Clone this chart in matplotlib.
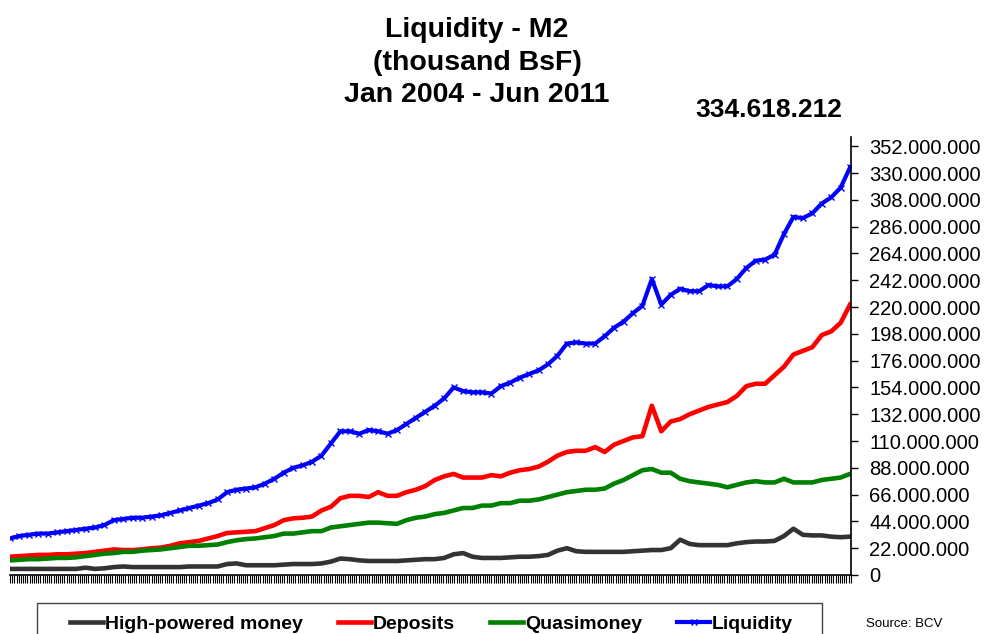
#!/usr/bin/env python3
"""Liquidity - M2 (thousand BsF), Jan 2004 - Jun 2011."""
import matplotlib
matplotlib.use('Agg')
import matplotlib.pyplot as plt
import matplotlib.patches as mpatches
from matplotlib.ticker import FuncFormatter
import numpy as np

plt.rcParams['font.family'] = ['Liberation Sans', 'DejaVu Sans']

# monthly readings, Jan 2004 .. Jun 2011, in millions of thousand BsF
months = np.arange(90)
high_powered = [5, 5, 5, 5, 5, 5, 5, 5, 6, 5, 5.5, 6.5, 7, 6.5, 6.5, 6.5, 6.5, 6.5,
                6.5, 7, 7, 7, 7, 9, 9.5, 8, 8, 8, 8, 8.5, 9, 9, 9, 9.5, 11, 13.5,
                13, 12, 11.5, 11.5, 11.5, 11.5, 12, 12.5, 13, 13, 14, 17, 18, 15, 14, 14,
                14, 14.5, 15, 15, 15.5, 16.5, 20, 22, 19.5, 19, 19, 19, 19, 19, 19.5, 20,
                20.5, 20.5, 22, 29, 25.5, 24.5, 24.5, 24.5, 24.5, 26, 27, 27.5, 27.5, 28,
                32, 38, 33, 32.5, 32.5, 31.5, 31, 31.5]
deposits = [15, 15.5, 16, 16.5, 16.5, 17, 17, 17.5, 18, 19, 20, 21, 20.5, 20.5, 21, 22,
            22.5, 24, 26, 27, 28, 30, 32, 34.5, 35, 35.5, 36, 38.5, 41, 45, 46.5, 47, 48,
            53, 56, 63, 65, 65, 64, 68, 65, 65, 68, 70, 73, 78, 81, 83, 80, 80, 80, 82,
            81, 84, 86, 87, 89, 93, 98, 101, 102, 102, 105, 101, 107, 110, 113, 114, 139,
            118, 126, 128, 132, 135, 138, 140, 142, 147, 155, 157, 157, 164, 171, 181, 184,
            187, 197, 200, 207, 222]
quasimoney = [12, 12.5, 13, 13, 13.5, 14, 14, 14.5, 15.5, 16.5, 17.5, 18, 19, 19, 20,
              20.5, 21, 22, 23, 24, 24, 24.5, 25, 27, 28.5, 29.5, 30, 31, 32, 34, 34, 35,
              36, 36, 39, 40, 41, 42, 43, 43, 42.5, 42, 45, 47, 48, 50, 51, 53, 55, 55, 57,
              57, 59, 59, 61, 61, 62, 64, 66, 68, 69, 70, 70, 71, 75, 78, 82, 86, 87, 84,
              84, 79, 77, 76, 75, 74, 72, 74, 76, 77, 76, 76, 79, 76, 76, 76, 78, 79, 80, 83]
liquidity = [30, 32, 33, 34, 34, 35, 36, 37, 38, 39, 41, 45, 46, 47, 47, 48, 49, 51, 53,
             55, 57, 59, 62, 68, 70, 71, 72, 75, 79, 84, 88, 90, 93, 98, 108, 118, 118,
             116, 119, 118, 116, 119, 124, 129, 134, 139, 145, 154, 151, 150, 150, 149,
             155, 158, 162, 165, 168, 173, 180, 190, 191, 190, 190, 196, 203, 208, 215,
             221, 243, 222, 230, 235, 233, 233, 238, 237, 237, 243, 252, 258, 259, 263,
             280, 294, 293, 297, 305, 310, 318, 334.618212]
labels = ['High-powered money', 'Deposits', 'Quasimoney', 'Liquidity']

SCALE = 1e6
GRAY = '#333333'
RED = '#FF0000'
GREEN = '#008000'
BLUE = '#0000FF'

def dotted(v, pos=None):
    return '{:,.0f}'.format(v).replace(',', '.')

fig = plt.figure(figsize=(9.93, 6.34), dpi=100, facecolor='white')
ax = fig.add_axes([10 / 993, 59 / 634, 841 / 993, 438 / 634])

ax.plot(months, np.array(high_powered) * SCALE, color=GRAY, lw=3.3, label=labels[0])
ax.plot(months, np.array(deposits) * SCALE, color=RED, lw=3.3, label=labels[1])
ax.plot(months, np.array(quasimoney) * SCALE, color=GREEN, lw=3.3, label=labels[2])
ax.plot(months, np.array(liquidity) * SCALE, color=BLUE, lw=3.0, marker='x',
        markersize=5, markeredgewidth=1, label=labels[3])

ax.set_xlim(0, 89.1)
ax.set_ylim(0, 359.6e6)

# right-hand value axis
ax.yaxis.tick_right()
ax.set_yticks(np.arange(0, 352e6 + 1, 22e6))
ax.yaxis.set_major_formatter(FuncFormatter(dotted))
ax.tick_params(axis='y', direction='out', length=5, width=1, pad=8, labelsize=14.5)

# weekly tick marks along the bottom, no labels
ax.set_xticks([])
ax.set_xticks(np.arange(0, 89.1, 12 / 52), minor=True)
ax.tick_params(axis='x', which='minor', direction='out', length=6, width=0.8)

for side in ('left', 'top'):
    ax.spines[side].set_visible(False)
for side in ('right', 'bottom'):
    ax.spines[side].set_linewidth(1.2)

title_lines = ['Liquidity - M2', '(thousand BsF)', 'Jan 2004 - Jun 2011']
for i, line in enumerate(title_lines):
    fig.text(477 / 993, 1 - (30 + 32.5 * i) / 634, line, ha='center', va='center',
             fontsize=20.5, fontweight='bold')

fig.text(842 / 993, 1 - 110 / 634, dotted(liquidity[-1] * SCALE), ha='right',
         va='center', fontsize=19, fontweight='bold')

leg = fig.legend(loc='center left', bbox_to_anchor=(70 / 993, 1 - 624 / 634), ncol=4,
                 frameon=False, fontsize=14, handlelength=1.7, handletextpad=0.1,
                 columnspacing=1.8, borderpad=0, borderaxespad=0)
for t in leg.get_texts():
    t.set_fontweight('bold')

fig.add_artist(mpatches.Rectangle((37 / 993, -0.1), 785 / 993, 0.1 + 31 / 634,
                                  transform=fig.transFigure, fill=False,
                                  edgecolor='#444444', lw=1))

fig.text(866 / 993, 1 - 624 / 634, 'Source: BCV', ha='left', va='center', fontsize=9.5)

fig.savefig('out.png', dpi=100, facecolor='white')
print('Done: out.png')
